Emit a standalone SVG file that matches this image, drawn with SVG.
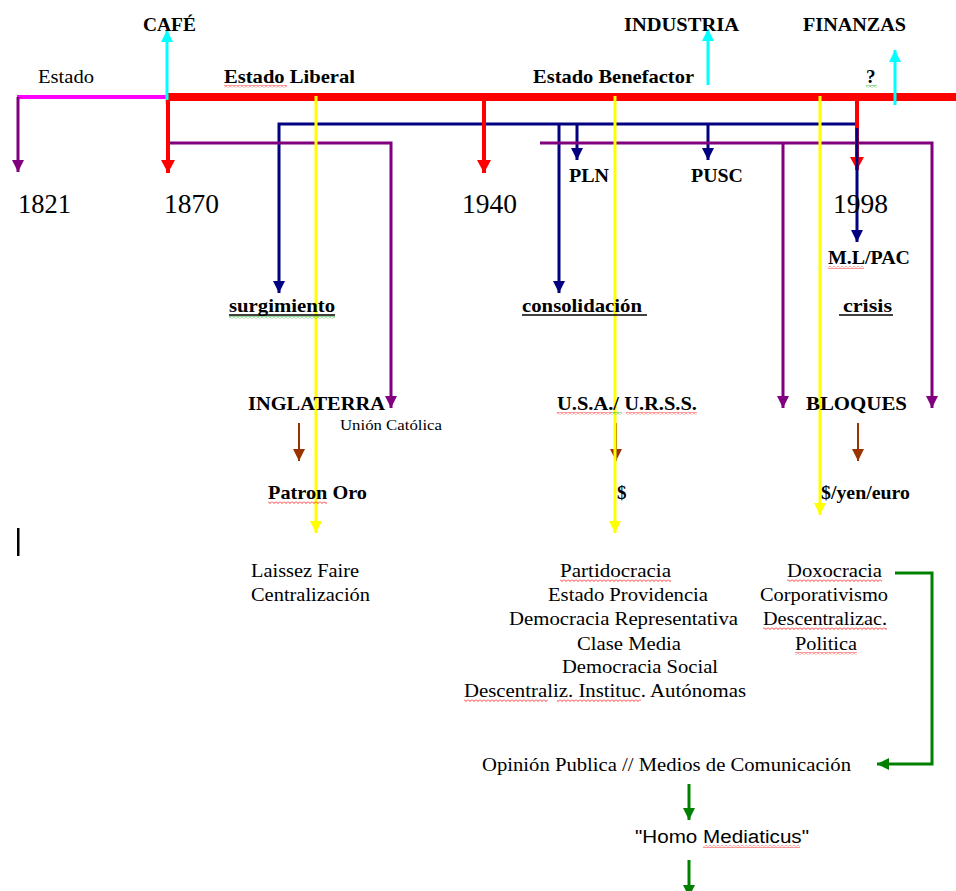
<svg xmlns="http://www.w3.org/2000/svg" width="956" height="891" viewBox="0 0 956 891">
<style>
text{font-family:"Liberation Serif","Times New Roman",serif;font-size:19px;fill:#000}
.b{font-weight:bold}
.yr{font-size:28px}
.sm{font-size:15px}
.sans{font-family:"Liberation Sans",Arial,sans-serif;font-size:18px}
.ln{fill:none;stroke-linecap:butt;stroke-linejoin:miter}
.red{stroke:#FF0000;stroke-width:4}
.blue{stroke:#000080;stroke-width:3}
.pur{stroke:#800080;stroke-width:3}
.yel{stroke:#FFFF00;stroke-width:3}
.cy{stroke:#00FFFF;stroke-width:3}
.br{stroke:#993300;stroke-width:2}
.gr{stroke:#008000;stroke-width:3}
.ul{stroke:#000;stroke-width:1.5}
</style>
<defs>
<marker id="aRed" markerUnits="userSpaceOnUse" markerWidth="14" markerHeight="14" refX="13" refY="7" orient="auto"><path d="M0,0 L13,7 L0,14 z" fill="#FF0000"/></marker>
<marker id="aBlue" markerUnits="userSpaceOnUse" markerWidth="12" markerHeight="12" refX="12" refY="6" orient="auto"><path d="M0,0 L12,6 L0,12 z" fill="#000080"/></marker>
<marker id="aPur" markerUnits="userSpaceOnUse" markerWidth="12" markerHeight="12" refX="12" refY="6" orient="auto"><path d="M0,0 L12,6 L0,12 z" fill="#800080"/></marker>
<marker id="aYel" markerUnits="userSpaceOnUse" markerWidth="12" markerHeight="12" refX="12" refY="6" orient="auto"><path d="M0,0 L12,6 L0,12 z" fill="#FFFF00"/></marker>
<marker id="aCy" markerUnits="userSpaceOnUse" markerWidth="12" markerHeight="12" refX="12" refY="6" orient="auto"><path d="M0,0 L12,6 L0,12 z" fill="#00FFFF"/></marker>
<marker id="aBr" markerUnits="userSpaceOnUse" markerWidth="12" markerHeight="12" refX="12" refY="6" orient="auto"><path d="M0,0 L12,6 L0,12 z" fill="#993300"/></marker>
<marker id="aGr" markerUnits="userSpaceOnUse" markerWidth="12" markerHeight="12" refX="12" refY="6" orient="auto"><path d="M0,0 L12,6 L0,12 z" fill="#008000"/></marker>
<pattern id="sqR" patternUnits="userSpaceOnUse" width="4" height="3"><path d="M0,0.5 L2,2.5 L4,0.5" fill="none" stroke="#FF0000" stroke-width="0.8"/></pattern>
<pattern id="sqG" patternUnits="userSpaceOnUse" width="4" height="3"><path d="M0,0.5 L2,2.5 L4,0.5" fill="none" stroke="#00A000" stroke-width="0.8"/></pattern>
</defs>
<rect width="956" height="891" fill="#fff"/>

<g id="connectors">
<path class="ln" d="M17,97 L168,97" stroke="#FF00FF" stroke-width="4"/>
<path class="ln pur" d="M18,97 L18,172" stroke-width="4" marker-end="url(#aPur)"/>
<path class="ln" d="M168,97 L956,97" stroke="#FF0000" stroke-width="8"/>
<path class="ln cy" d="M167,104 L167,30" marker-end="url(#aCy)"/>
<path class="ln cy" d="M708,85 L708,29" marker-end="url(#aCy)"/>
<path class="ln cy" d="M895,105 L895,50" marker-end="url(#aCy)"/>
<path class="ln blue" d="M857,124 L279,124 L279,293" marker-end="url(#aBlue)"/>
<path class="ln blue" d="M559,124 L559,293" marker-end="url(#aBlue)"/>
<path class="ln blue" d="M577,124 L577,160" marker-end="url(#aBlue)"/>
<path class="ln blue" d="M708,124 L708,160" marker-end="url(#aBlue)"/>
<path class="ln pur" d="M168,143 L391,143 L391,408" marker-end="url(#aPur)"/>
<path class="ln pur" d="M540,143 L932,143 L932,408" marker-end="url(#aPur)"/>
<path class="ln pur" d="M783,143 L783,408" marker-end="url(#aPur)"/>
<path class="ln red" d="M168,100 L168,173" marker-end="url(#aRed)"/>
<path class="ln red" d="M484,100 L484,173" marker-end="url(#aRed)"/>
<path class="ln red" d="M857,100 L857,170" marker-end="url(#aRed)"/>
<path class="ln blue" d="M857,128 L857,242" marker-end="url(#aBlue)"/>
<path class="ln br" d="M299,423 L299,461" marker-end="url(#aBr)"/>
<path class="ln br" d="M616,423 L616,461" marker-end="url(#aBr)"/>
<path class="ln br" d="M858,423 L858,461" marker-end="url(#aBr)"/>
<path class="ln yel" d="M316,96 L316,533" marker-end="url(#aYel)"/>
<path class="ln yel" d="M615,96 L615,533" marker-end="url(#aYel)"/>
<path class="ln yel" d="M820,96 L820,515" marker-end="url(#aYel)"/>
<path class="ln gr" d="M895,573 L932,573 L932,764 L877,764" marker-end="url(#aGr)"/>
<path class="ln gr" d="M689,784 L689,820" marker-end="url(#aGr)"/>
<path class="ln gr" d="M689,860 L689,897" marker-end="url(#aGr)"/>
</g>

<g id="cursor"><rect x="17" y="528" width="2.5" height="28" fill="#000"/></g>

<g id="n-cafe"><text class="b" x="143" y="31" textLength="53" lengthAdjust="spacingAndGlyphs">CAFÉ</text></g>
<g id="n-industria"><text class="b" x="624" y="31" textLength="115" lengthAdjust="spacingAndGlyphs">INDUSTRIA</text></g>
<g id="n-finanzas"><text class="b" x="803" y="31" textLength="103" lengthAdjust="spacingAndGlyphs">FINANZAS</text></g>
<g id="n-estado"><text x="38" y="83" textLength="56" lengthAdjust="spacingAndGlyphs">Estado</text></g>
<g id="n-estado-liberal"><text class="b" x="224" y="83" textLength="131" lengthAdjust="spacingAndGlyphs">Estado Liberal</text>
<rect x="224" y="85" width="63" height="3" fill="url(#sqR)"/></g>
<g id="n-estado-benefactor"><text class="b" x="533" y="83" textLength="161" lengthAdjust="spacingAndGlyphs">Estado Benefactor</text></g>
<g id="n-q"><text class="b" x="866" y="83">?</text><rect x="866" y="85" width="11" height="3" fill="url(#sqG)"/></g>

<g id="n-1821"><text class="yr" x="18" y="213" textLength="53" lengthAdjust="spacingAndGlyphs">1821</text></g>
<g id="n-1870"><text class="yr" x="164" y="213" textLength="55" lengthAdjust="spacingAndGlyphs">1870</text></g>
<g id="n-1940"><text class="yr" x="462" y="213" textLength="55" lengthAdjust="spacingAndGlyphs">1940</text></g>
<g id="n-1998"><text class="yr" x="833" y="213" textLength="55" lengthAdjust="spacingAndGlyphs">1998</text></g>

<g id="n-pln"><text class="b" x="569" y="182" textLength="40" lengthAdjust="spacingAndGlyphs">PLN</text></g>
<g id="n-pusc"><text class="b" x="691" y="182" textLength="52" lengthAdjust="spacingAndGlyphs">PUSC</text></g>
<g id="n-mlpac"><text class="b" x="828" y="264" textLength="82" lengthAdjust="spacingAndGlyphs">M.L/PAC</text>
<rect x="828" y="266" width="36" height="3" fill="url(#sqR)"/></g>

<g id="n-surgimiento"><text class="b" x="229" y="312" textLength="106" lengthAdjust="spacingAndGlyphs">surgimiento</text>
<line class="ul" x1="229" y1="315" x2="335" y2="315"/>
<rect x="229" y="316" width="106" height="3" fill="url(#sqG)"/></g>
<g id="n-consolidacion"><text class="b" x="522" y="312" textLength="120" lengthAdjust="spacingAndGlyphs">consolidación</text>
<line class="ul" x1="522" y1="315" x2="647" y2="315"/></g>
<g id="n-crisis"><text class="b" x="843" y="312" textLength="49" lengthAdjust="spacingAndGlyphs">crisis</text>
<line class="ul" x1="839" y1="315" x2="893" y2="315"/></g>

<g id="n-inglaterra"><text class="b" x="248" y="410" textLength="137" lengthAdjust="spacingAndGlyphs">INGLATERRA</text></g>
<g id="n-union"><text class="sm" x="340" y="430" textLength="102" lengthAdjust="spacingAndGlyphs">Unión Católica</text></g>
<g id="n-usa"><text class="b" x="557" y="410" textLength="140" lengthAdjust="spacingAndGlyphs">U.S.A./ U.R.S.S.</text>
<rect x="557" y="412" width="55" height="3" fill="url(#sqR)"/>
<rect x="612" y="412" width="10" height="3" fill="url(#sqG)"/>
<rect x="626" y="412" width="71" height="3" fill="url(#sqR)"/></g>
<g id="n-bloques"><text class="b" x="806" y="410" textLength="101" lengthAdjust="spacingAndGlyphs">BLOQUES</text></g>

<g id="n-patron"><text class="b" x="268" y="499" textLength="99" lengthAdjust="spacingAndGlyphs">Patron Oro</text>
<rect x="268" y="501" width="59" height="3" fill="url(#sqR)"/></g>
<g id="n-dollar"><text class="b" x="617" y="499">$</text></g>
<g id="n-yen"><text class="b" x="821" y="499" textLength="89" lengthAdjust="spacingAndGlyphs">$/yen/euro</text></g>

<g id="n-liberal-list">
<text x="251" y="577" textLength="108" lengthAdjust="spacingAndGlyphs">Laissez Faire</text>
<text x="251" y="601" textLength="119" lengthAdjust="spacingAndGlyphs">Centralización</text>
</g>

<g id="n-benefactor-list">
<text x="560" y="577" textLength="111" lengthAdjust="spacingAndGlyphs">Partidocracia</text>
<rect x="560" y="579" width="111" height="3" fill="url(#sqR)"/>
<text x="548" y="601" textLength="160" lengthAdjust="spacingAndGlyphs">Estado Providencia</text>
<text x="509" y="625" textLength="229" lengthAdjust="spacingAndGlyphs">Democracia Representativa</text>
<text x="577" y="650" textLength="104" lengthAdjust="spacingAndGlyphs">Clase Media</text>
<text x="562" y="673" textLength="156" lengthAdjust="spacingAndGlyphs">Democracia Social</text>
<text x="464" y="697" textLength="282" lengthAdjust="spacingAndGlyphs">Descentraliz. Instituc. Autónomas</text>
<rect x="464" y="699" width="84" height="3" fill="url(#sqR)"/>
<rect x="557" y="699" width="84" height="3" fill="url(#sqR)"/>
</g>

<g id="n-crisis-list">
<text x="787" y="577" textLength="95" lengthAdjust="spacingAndGlyphs">Doxocracia</text>
<rect x="787" y="579" width="95" height="3" fill="url(#sqR)"/>
<text x="760" y="601" textLength="128" lengthAdjust="spacingAndGlyphs">Corporativismo</text>
<text x="763" y="625" textLength="124" lengthAdjust="spacingAndGlyphs">Descentralizac.</text>
<rect x="763" y="627" width="124" height="3" fill="url(#sqR)"/>
<text x="795" y="650" textLength="62" lengthAdjust="spacingAndGlyphs">Politica</text>
<rect x="795" y="652" width="62" height="3" fill="url(#sqR)"/>
</g>

<g id="n-opinion"><text x="482" y="771" textLength="369" lengthAdjust="spacingAndGlyphs">Opinión Publica // Medios de Comunicación</text></g>
<g id="n-homo"><text class="sans" x="635" y="843" textLength="174" lengthAdjust="spacingAndGlyphs">"Homo Mediaticus"</text>
<rect x="703" y="845" width="97" height="3" fill="url(#sqR)"/></g>
</svg>
